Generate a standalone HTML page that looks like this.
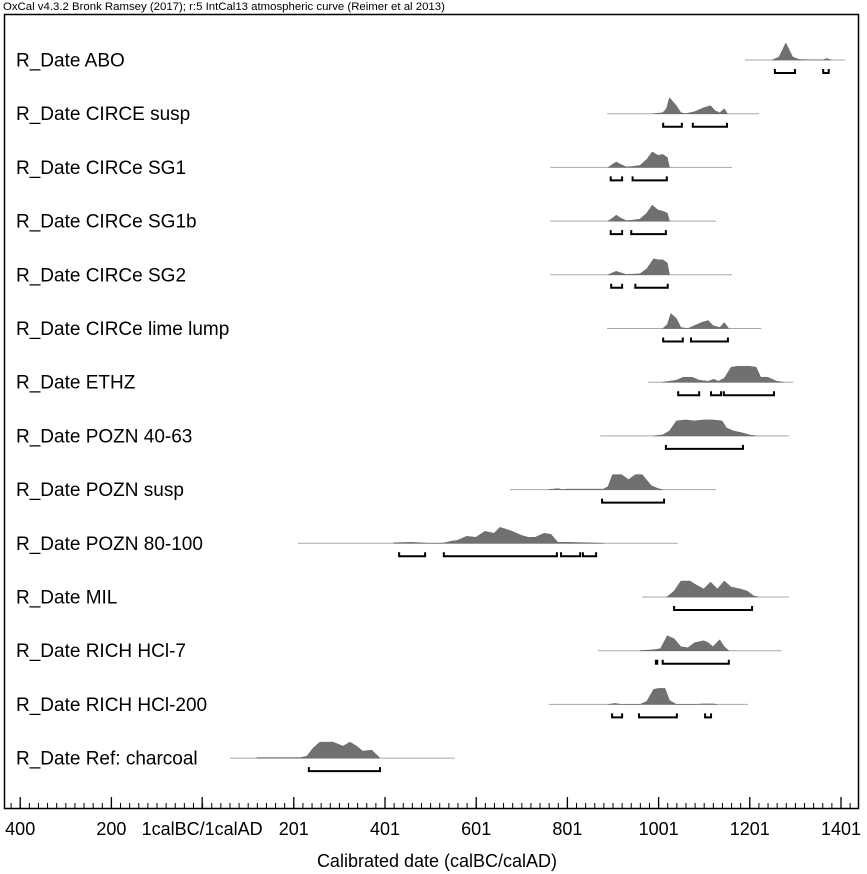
<!DOCTYPE html>
<html><head><meta charset="utf-8"><style>
html,body{margin:0;padding:0;background:#fff;}
svg{display:block;font-family:"Liberation Sans",Arial,sans-serif;}
</style></head><body>
<svg id="chart" width="867" height="874" viewBox="0 0 867 874">
<text x="3" y="10" font-size="11.4" fill="#000">OxCal v4.3.2 Bronk Ramsey (2017); r:5 IntCal13 atmospheric curve (Reimer et al 2013)</text>
<rect x="4.5" y="14.5" width="854" height="794" fill="none" stroke="#000" stroke-width="1.5"/>
<text x="437" y="867" font-size="18" text-anchor="middle">Calibrated date (calBC/calAD)</text>
<g id="rows"></g><g id="axis"></g>
</svg>
<script>
const labels=["R_Date ABO","R_Date CIRCE susp","R_Date CIRCe SG1","R_Date CIRCe SG1b","R_Date CIRCe SG2","R_Date CIRCe lime lump","R_Date ETHZ","R_Date POZN 40-63","R_Date POZN susp","R_Date POZN 80-100","R_Date MIL","R_Date RICH HCl-7","R_Date RICH HCl-200","R_Date Ref: charcoal"];
const ranges=[[1190,1410],[888,1221],[763,1162],[763,1127],[763,1162],[888,1226],[978,1296],[873,1287],[675,1127],[210,1043],[965,1287],[868,1271],[760,1197],[61,554]];
const profYears=[
[1250,1265,1280,1295,1310,1360,1370,1380],
[990,1010,1018,1025,1040,1050,1060,1080,1100,1115,1125,1135,1145,1152],
[890,900,908,918,930,945,960,975,987,1000,1010,1020,1025],
[890,900,908,918,930,945,960,975,987,1000,1010,1020,1025],
[890,900,908,918,930,960,975,990,1000,1010,1020,1025],
[1010,1020,1028,1040,1050,1065,1080,1095,1110,1120,1135,1145,1155],
[1010,1040,1055,1075,1090,1110,1122,1132,1145,1160,1175,1200,1215,1225,1240,1260,1275],
[990,1010,1025,1040,1060,1080,1100,1120,1140,1150,1165,1185,1200,1215],
[760,780,790,800,880,890,900,920,935,950,965,985,1000,1010],
[420,460,500,530,545,560,580,600,620,640,653,680,700,715,730,750,765,780,800,850,880],
[1019,1035,1050,1070,1080,1100,1115,1130,1145,1160,1180,1195,1210,1220],
[960,990,1005,1020,1035,1050,1065,1080,1100,1110,1120,1135,1145,1155],
[890,905,920,960,975,990,1000,1015,1025,1040,1080,1100,1120,1130],
[120,138,215,230,243,258,287,309,324,339,352,372,390]];
const profHeights=[
[0,3,17,3,0.5,0,1.5,0],
[0,1,5,16,8,1,0,2,6,8,3,1,5,0],
[0,3,5.5,3,0.5,1,2,8,15.5,12,13,10,0],
[0,3,6,3,0.5,1,2,8,16,11,10,8,0],
[0,2,3.5,2,0.3,1,6,16,15,15,12,0],
[0,4,15,10,1,0,3,6,8,3,1,6,0],
[0,2,5,5,2,1,3,1,4,15,16,16,15,5,5,1,0],
[0,1,5,15,16,15,16,16,15,8,5,3,1,0],
[0,1,0,0.5,0.5,3,15,15,10,15,15,4,1,0],
[0.5,1,0,0.3,2,3,7,6,12,10,16,12,8,6,6,10,9,1,1,0.5,0],
[0,6,16,16,13,8,15,8,16,10,8,6,1,0],
[0,1,2,15,12,4,3,8,10,8,4,11,4,0],
[0,1,0,0,3,15,16,16,4,0,0,0.5,0.5,0],
[0.5,0.5,0.5,2,10,16,16,12,16,12,7,8,0]];
const brackets=[
[[1256,1300],[1362,1374]],
[[1011,1052],[1076,1151]],
[[896,921],[944,1019]],
[[896,921],[941,1017]],
[[897,921],[950,1021]],
[[1011,1054],[1072,1153]],
[[1044,1090],[1116,1138],[1144,1254]],
[[1017,1186]],
[[877,1013]],
[[432,489],[530,778],[787,829],[835,864]],
[[1035,1206]],
[[995,998],[1010,1155]],
[[899,921],[958,1041],[1103,1116]],
[[234,390]]];
const majorTicks=[-399,-199,0,201,401,601,801,1001,1201,1401];
const majorLabels=["400","200","1calBC/1calAD","201","401","601","801","1001","1201","1401"];

const NS="http://www.w3.org/2000/svg";
const xS=y=>385+(y-401)*0.456;
const rowY=i=>60+i*53.7;
function mk(tag,attrs,parent){const e=document.createElementNS(NS,tag);for(const k in attrs)e.setAttribute(k,attrs[k]);parent.appendChild(e);return e;}
const rowsG=document.getElementById('rows');
labels.forEach((lab,i)=>{
  const by=rowY(i);
  const g=mk('g',{},rowsG);
  
  
  const t=mk('text',{x:16,y:by+6.5,'font-size':19},g);
  t.textContent=lab;
  
  
  const bl=mk('line',{x1:xS(ranges[i][0]),x2:xS(ranges[i][1]),y1:by,y2:by,stroke:'#a8a8a8','stroke-width':1},g);
  
  
  const ys=profYears[i],hs=profHeights[i];
  let d='M'+xS(ys[0]).toFixed(1)+','+by;
  ys.forEach((yr,k)=>{d+=' L'+xS(yr).toFixed(1)+','+(by-hs[k]).toFixed(1);});
  d+=' L'+xS(ys[ys.length-1]).toFixed(1)+','+by+' Z';
  const p=mk('path',{d:d,fill:'#707070',stroke:'#666','stroke-width':0.5},g);
  
  
  brackets[i].forEach(b=>{
    const x1=xS(b[0]),x2=xS(b[1]),yb=by+13;
    const br=mk('path',{d:`M${x1},${yb-4} L${x1},${yb} L${x2},${yb} L${x2},${yb-4}`,fill:'none',stroke:'#000','stroke-width':2},g);
    
    
  });
});
const ax=document.getElementById('axis');
const axisY=808;
for(let yr=-439;yr<=1421;yr+=20){
  const x=xS(yr); if(x<6||x>857)continue;
  const tk=mk('line',{x1:x,x2:x,y1:axisY,y2:axisY-5,stroke:'#000','stroke-width':1},ax);
  
  
}
majorTicks.forEach((yr,k)=>{
  const x=xS(yr);
  const tk=mk('line',{x1:x,x2:x,y1:axisY,y2:axisY-11,stroke:'#000','stroke-width':1.3},ax);
  
  
  const t=mk('text',{x:x,y:835,'font-size':18,'text-anchor':'middle'},ax);
  t.textContent=majorLabels[k];
  
  
});
</script>
</body></html>
